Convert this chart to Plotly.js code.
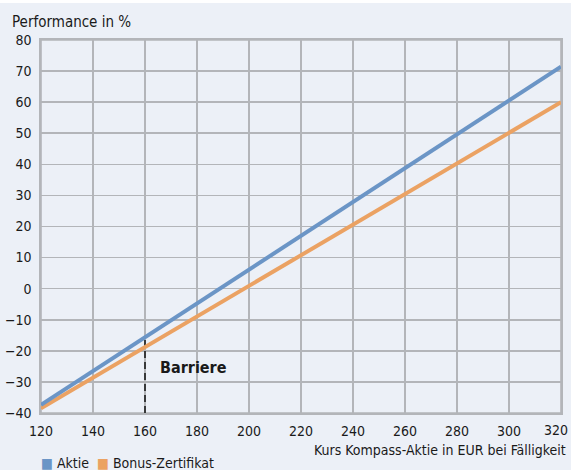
<!DOCTYPE html>
<html>
<head>
<meta charset="utf-8">
<script src="https://cdn.plot.ly/plotly-3.0.1.min.js"></script>
<style>
html,body{margin:0;padding:0;background:#fff;}
#chart{width:571px;height:467px;margin-top:3px;background:#ECF0F7;}
</style>
</head>
<body>
<div id="chart"></div>
<script>
// Data
const kurs = [120, 320];
const aktie = [-37.4, 71.4];
const bonus = [-38.5, 60.0];
const barrierX = [160, 160];
const barrierY = [-40, -15.6];
const xTicks = [120, 140, 160, 180, 200, 220, 240, 260, 280, 300, 320];
const yTicks = [-40, -30, -20, -10, 0, 10, 20, 30, 40, 50, 60, 70, 80];
const seriesNames = ['Aktie', 'Bonus-Zertifikat'];
const barrierLabel = 'Barriere';
const yTitle = 'Performance in %';
const xTitle = 'Kurs Kompass-Aktie in EUR bei Fälligkeit';

const FONT = '"Liberation Sans Narrow", "Arial Narrow", "DejaVu Sans Condensed", Roboto, sans-serif';
const BLUE = '#6B95C6';
const ORANGE = '#EBA263';
const GRID = '#B3B5B9';
const TXT = '#1a1a1a';

const lastX = xTicks[xTicks.length - 1];

const traces = [
  {x: barrierX, y: barrierY, mode: 'lines', line: {color: '#111', width: 1.5, dash: '7px,4px'}, showlegend: false, hoverinfo: 'skip'},
  {x: kurs, y: bonus, mode: 'lines', name: seriesNames[1], line: {color: ORANGE, width: 4}, showlegend: false},
  {x: kurs, y: aktie, mode: 'lines', name: seriesNames[0], line: {color: BLUE, width: 4}, showlegend: false}
];

const layout = {
  width: 571, height: 467,
  margin: {l: 41, r: 10, t: 37, b: 57},
  paper_bgcolor: '#ECF0F7',
  plot_bgcolor: '#ECF0F7',
  font: {family: FONT, size: 14, color: TXT},
  showlegend: false,
  xaxis: {
    range: [120, 320], tickvals: xTicks,
    // last label is placed as an annotation so it stays inside the picture
    ticktext: xTicks.map(v => v === lastX ? '' : String(v)),
    showgrid: true, gridcolor: GRID, gridwidth: 1.6,
    showline: true, linecolor: GRID, linewidth: 1.6, mirror: true,
    zeroline: false, ticks: '', ticklabelstandoff: 5,
    tickfont: {family: FONT, size: 14, color: TXT}
  },
  yaxis: {
    range: [-40, 80], tickvals: yTicks,
    ticktext: yTicks.map(v => v < 0 ? '\u2212' + Math.abs(v) : String(v)),
    showgrid: true, gridcolor: GRID, gridwidth: 1.6,
    showline: true, linecolor: GRID, linewidth: 1.6, mirror: true,
    zeroline: false, ticks: '', ticklabelstandoff: 5,
    tickfont: {family: FONT, size: 14, color: TXT}
  },
  shapes: [
    {type: 'rect', xref: 'paper', yref: 'paper', x0: 0, x1: 1, y0: 0, y1: 1,
     line: {color: GRID, width: 1.6}, fillcolor: 'rgba(0,0,0,0)', layer: 'below'}
  ],
  annotations: [
    {text: String(lastX), xref: 'x', yref: 'paper', x: lastX, y: 0, xanchor: 'right', yanchor: 'top',
     xshift: 9, yshift: -7, showarrow: false, font: {family: FONT, size: 14, color: TXT}},
    {text: yTitle, xref: 'paper', yref: 'paper', x: 0, y: 1, xanchor: 'left', yanchor: 'middle',
     xshift: -31, yshift: 18, showarrow: false, font: {family: FONT, size: 15, color: TXT}},
    {text: xTitle, xref: 'paper', yref: 'paper', x: 1, y: 0, xanchor: 'right', yanchor: 'middle',
     xshift: 7, yshift: -37, showarrow: false, font: {family: FONT, size: 14, color: TXT}},
    {text: '<b>' + barrierLabel + '</b>', xref: 'x', yref: 'y', x: 165, y: -25.2, xanchor: 'left', yanchor: 'middle',
     showarrow: false, font: {family: FONT, size: 16, color: TXT}},
    {text: '<span style="color:' + BLUE + '">\u25A0</span> ' + seriesNames[0], xref: 'paper', yref: 'paper', x: 0, y: 0,
     xanchor: 'left', yanchor: 'middle', xshift: -2, yshift: -50, showarrow: false, font: {family: FONT, size: 14, color: TXT}},
    {text: '<span style="color:' + ORANGE + '">\u25A0</span> ' + seriesNames[1], xref: 'paper', yref: 'paper', x: 0, y: 0,
     xanchor: 'left', yanchor: 'middle', xshift: 54, yshift: -50, showarrow: false, font: {family: FONT, size: 14, color: TXT}}
  ]
};

Plotly.newPlot('chart', traces, layout, {displayModeBar: false, staticPlot: true});
</script>
</body>
</html>
